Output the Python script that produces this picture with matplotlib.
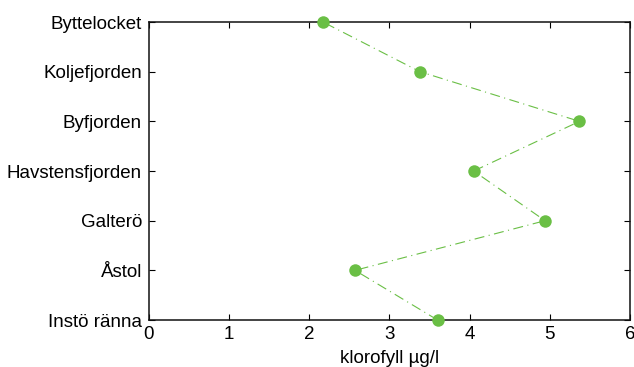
import matplotlib
matplotlib.use("Agg")
import matplotlib.pyplot as plt

plt.rcParams['font.family'] = ['Liberation Sans', 'DejaVu Sans']

stations = ["Instö ränna", "Åstol", "Galterö", "Havstensfjorden",
            "Byfjorden", "Koljefjorden", "Byttelocket"]
klorofyll = [3.60, 2.57, 4.94, 4.05, 5.37, 3.38, 2.17]

fig = plt.figure(figsize=(6.34, 3.67), dpi=100)
ax = fig.add_axes([0.235, 0.128, 0.7587, 0.812])

ypos = list(range(len(stations)))
ax.plot(klorofyll, ypos, linestyle=(0, (9, 4, 1, 4)), color='#6abf45', linewidth=0.8,
        marker='o', markersize=9, markeredgewidth=0, clip_on=False, zorder=3)

ax.set_xlim(0, 6)
ax.set_ylim(0, len(stations) - 1)
ax.set_xticks(range(0, 7))
ax.set_yticks(ypos)
ax.set_yticklabels(stations)
ax.set_xlabel("klorofyll µg/l", fontsize=13.5, labelpad=5)

ax.tick_params(direction='in', top=True, right=True, length=4, width=0.8,
               labelsize=13.5, pad=4)
ax.tick_params(axis='y', pad=5)
for s in ax.spines.values():
    s.set_linewidth(1.1)
    s.set_color('#111111')

fig.savefig("out.png", dpi=100)
